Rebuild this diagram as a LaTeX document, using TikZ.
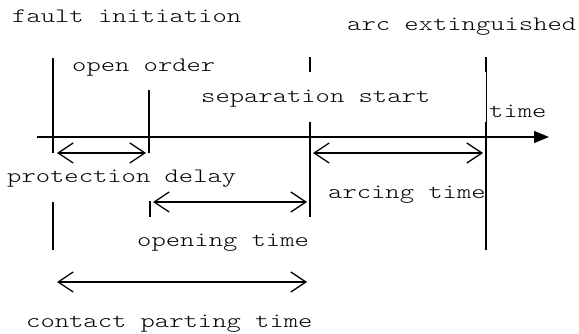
\documentclass[tikz,border=0pt]{standalone}
\usepackage{fontspec}
\usetikzlibrary{arrows.meta}
\newfontfamily\cour{lmmonolt10-regular.otf}[FakeStretch=1.33]
\begin{document}
\begin{tikzpicture}[x=1pt,y=-1pt,
  tick/.style={line width=1.6pt},
  thinline/.style={line width=0.8pt},
  dim/.style={line width=1.3pt,{Straight Barb[length=15pt,width=20pt]}-{Straight Barb[length=15pt,width=20pt]}},
  axis/.style={line width=1.3pt,-{Triangle[length=15pt,width=12pt]}},
  lbl/.style={font={\cour\fontsize{20.5}{24}\selectfont},anchor=base west,inner sep=0pt}]
\useasboundingbox (0,0) rectangle (579,334);
% labels
\node[lbl] (fi) at (12,22.5) {fault initiation};
\node[lbl] (ae) at (347,31) {arc extinguished};
\node[lbl] (oo) at (72,72) {open order};
\node[lbl] (ss) at (201,103) {separation start};
\node[lbl] (tm) at (489,118) {time};
\node[lbl] (pd) at (7,183) {protection delay};
\node[lbl] (at) at (328,199) {arcing time};
\node[lbl] (ot) at (137,247) {opening time};
\node[lbl] (cp) at (26,327) {contact parting time};
% axis
\coordinate (ax0) at (37,137);
\coordinate (ax1) at (549,137);
\draw[axis] (ax0) -- (ax1);
% vertical lines
\coordinate (a1) at (53,58);  \coordinate (a2) at (53,153);
\coordinate (a3) at (53,202); \coordinate (a4) at (53,250);
\draw[tick] (a1) -- (a2);
\draw[tick] (a3) -- (a4);
\coordinate (b1) at (149,90);  \coordinate (b2) at (149,153);
\coordinate (b3) at (150,201); \coordinate (b4) at (150,217);
\draw[tick] (b1) -- (b2);
\draw[tick] (b3) -- (b4);
\coordinate (c1) at (310,57);  \coordinate (c2) at (310,72);
\coordinate (c3) at (310,122); \coordinate (c4) at (310,217);
\draw[tick] (c1) -- (c2);
\draw[tick] (c3) -- (c4);
\coordinate (d1) at (486,57);  \coordinate (d2) at (486,72);
\coordinate (d3) at (486,122); \coordinate (d4) at (486,250);
\draw[tick] (d1) -- (d2);
\draw[thinline] (d2) -- (d3);
\draw[tick] (d3) -- (d4);
% dimension arrows
\coordinate (pdL) at (57,153);  \coordinate (pdR) at (146,153);
\coordinate (arL) at (313,153); \coordinate (arR) at (483,153);
\coordinate (otL) at (153,202); \coordinate (otR) at (307,202);
\coordinate (cpL) at (57,282);  \coordinate (cpR) at (307,282);
\draw[dim] (pdL) -- (pdR);
\draw[dim] (arL) -- (arR);
\draw[dim] (otL) -- (otR);
\draw[dim] (cpL) -- (cpR);
\end{tikzpicture}
\end{document}
